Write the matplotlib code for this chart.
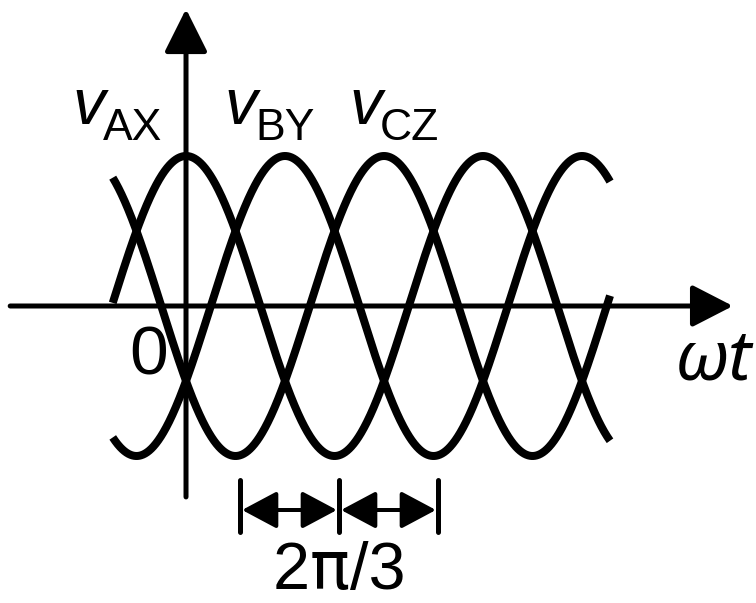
import numpy as np
import matplotlib
matplotlib.use("Agg")
import matplotlib.pyplot as plt

# Three-phase voltages, phase angle in radians
phase_labels = ["AX", "BY", "CZ"]
phase_shifts = [0.0, 2 * np.pi / 3, 4 * np.pi / 3]
amplitude = 1.0
t_start, t_end = -1.55, 8.97

# Horizontal position of the 2π/3 spacing marks
spacing_start = 1.142
spacing_step = 2 * np.pi / 3
spacing_label = ["2", "π", "/3"]

# Axis extents
x_axis = (-3.72, 11.57)
y_axis = (-1.273, 1.98)

fig = plt.figure(figsize=(7.56, 6.03), dpi=100)
ax = fig.add_axes([0, 0, 1, 1])
ax.set_xlim(-3.935, 12.058)
ax.set_ylim(-1.98, 2.04)
ax.axis("off")

px = 100 / 72  # pixels per point

# Sine curves
t = np.linspace(t_start, t_end, 1200)
for shift in phase_shifts:
    ax.plot(t, amplitude * np.cos(t - shift), color="black", lw=8 / px,
            solid_capstyle="butt")

# Coordinate axes with arrowheads
axis_style = "-|>,head_length={},head_width={}"
ax.annotate("", xy=(x_axis[1], 0), xytext=(x_axis[0], 0),
            arrowprops=dict(arrowstyle=axis_style.format(35 / px, 18 / px),
                            lw=5 / px, color="black", shrinkA=0, shrinkB=0,
                            mutation_scale=1))
ax.annotate("", xy=(0, y_axis[1]), xytext=(0, y_axis[0]),
            arrowprops=dict(arrowstyle=axis_style.format(37 / px, 18.5 / px),
                            lw=5 / px, color="black", shrinkA=0, shrinkB=0,
                            mutation_scale=1))

# Spacing marks: three bars with double arrows between them
marks = [spacing_start + i * spacing_step for i in range(3)]
bar_y = (-1.16, -1.507)
arrow_y = -1.36
for m in marks:
    ax.plot([m, m], bar_y, color="black", lw=5 / px, solid_capstyle="round")
for a, b in zip(marks[:-1], marks[1:]):
    ax.annotate("", xy=(b, arrow_y), xytext=(a, arrow_y),
                arrowprops=dict(arrowstyle="<|-|>,head_length={},head_width={}".format(30 / px, 16 / px),
                                lw=4 / px, color="black", shrinkA=1.5, shrinkB=1.5,
                                mutation_scale=1))

# "2π/3" label: straight-legged pi from DejaVu Sans between Arial-like digits,
# laid out piece by piece on a common baseline and centred under the marks
renderer = fig.canvas.get_renderer()
label_y = -1.885
pieces = []
for s in spacing_label:
    fam = "DejaVu Sans" if s == "π" else "Liberation Sans"
    pieces.append(ax.text(0, label_y, s, fontsize=48, family=fam,
                          ha="left", va="baseline"))
widths = [p.get_window_extent(renderer).width for p in pieces]
to_px = ax.transData.transform
to_data = ax.transData.inverted().transform
center_px = to_px(((marks[0] + marks[-1]) / 2, label_y))
x0 = center_px[0] - sum(widths) / 2
for p, w in zip(pieces, widths):
    p.set_x(to_data((x0, center_px[1]))[0])
    x0 += w

# Origin and axis label
ax.text(-0.80, -0.34, "0", fontsize=50, family="Liberation Sans",
        ha="center", va="center")
ax.text(11.15, -0.37, "ωt", fontsize=50, family="Noto Sans", style="italic",
        ha="center", va="center")

# Phase labels: italic v with upright subscript
label_x = [(72 - 186) / 47.27, (224 - 186) / 47.27, (349 - 186) / 47.27]
for lx, name in zip(label_x, phase_labels):
    ax.text(lx, (306 - 124) / 150, "v", fontsize=47, family="Liberation Sans",
            style="italic", ha="left", va="baseline")
    ax.text(lx + 31 / 47.27, (306 - 140) / 150, name, fontsize=32,
            family="Liberation Sans", ha="left", va="baseline")

fig.savefig("out.png", dpi=100)
